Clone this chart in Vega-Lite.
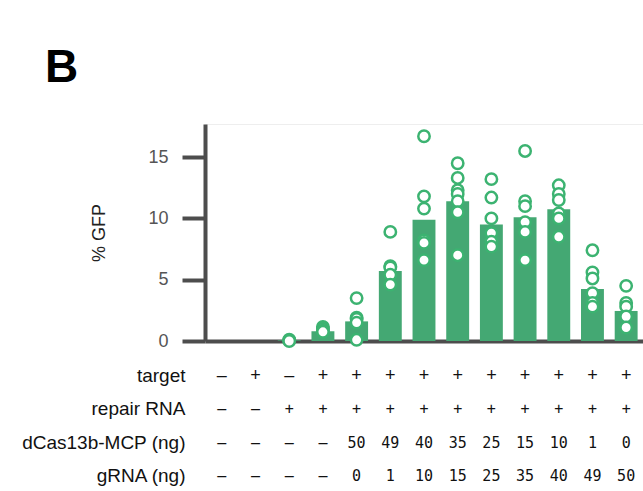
{
  "$schema": "https://vega.github.io/schema/vega-lite/v6.json",
  "padding": {"left": 21, "top": 44, "right": 0, "bottom": 0},
  "background": "white",
  "config": {"font": "Liberation Sans", "view": {"stroke": null}},
  "datasets": {
    "bars": [
      {"c": 1, "v": 0}, {"c": 2, "v": 0}, {"c": 3, "v": 0.05}, {"c": 4, "v": 0.8},
      {"c": 5, "v": 1.6}, {"c": 6, "v": 5.7}, {"c": 7, "v": 9.9}, {"c": 8, "v": 11.4},
      {"c": 9, "v": 9.5}, {"c": 10, "v": 10.1}, {"c": 11, "v": 10.75}, {"c": 12, "v": 4.25},
      {"c": 13, "v": 2.45}
    ],
    "points": [
      {"c": 3, "v": 0.1}, {"c": 3, "v": 0.05}, {"c": 3, "v": 0.0},
      {"c": 4, "v": 1.15}, {"c": 4, "v": 1.0}, {"c": 4, "v": 0.85}, {"c": 4, "v": 0.75},
      {"c": 5, "v": 3.5}, {"c": 5, "v": 1.9}, {"c": 5, "v": 1.8}, {"c": 5, "v": 1.5}, {"c": 5, "v": 0.1},
      {"c": 6, "v": 8.9}, {"c": 6, "v": 6.1}, {"c": 6, "v": 6.0}, {"c": 6, "v": 5.4}, {"c": 6, "v": 4.6},
      {"c": 7, "v": 16.7}, {"c": 7, "v": 11.8}, {"c": 7, "v": 10.8}, {"c": 7, "v": 8.2}, {"c": 7, "v": 8.0}, {"c": 7, "v": 6.6},
      {"c": 8, "v": 14.5}, {"c": 8, "v": 13.3}, {"c": 8, "v": 12.3}, {"c": 8, "v": 12.0}, {"c": 8, "v": 11.4}, {"c": 8, "v": 10.5}, {"c": 8, "v": 7.0},
      {"c": 9, "v": 13.2}, {"c": 9, "v": 11.7}, {"c": 9, "v": 10.0}, {"c": 9, "v": 8.8}, {"c": 9, "v": 8.1}, {"c": 9, "v": 7.7},
      {"c": 10, "v": 15.5}, {"c": 10, "v": 11.4}, {"c": 10, "v": 11.0}, {"c": 10, "v": 9.7}, {"c": 10, "v": 8.9}, {"c": 10, "v": 6.6},
      {"c": 11, "v": 12.7}, {"c": 11, "v": 12.0}, {"c": 11, "v": 11.5}, {"c": 11, "v": 10.4}, {"c": 11, "v": 10.0}, {"c": 11, "v": 8.5},
      {"c": 12, "v": 7.4}, {"c": 12, "v": 5.6}, {"c": 12, "v": 5.1}, {"c": 12, "v": 3.9}, {"c": 12, "v": 3.1}, {"c": 12, "v": 2.8},
      {"c": 13, "v": 4.5}, {"c": 13, "v": 3.1}, {"c": 13, "v": 2.8}, {"c": 13, "v": 2.0}, {"c": 13, "v": 1.1}
    ],
    "table": [
      {"c": 1, "row": "target", "t": "–"}, {"c": 2, "row": "target", "t": "+"}, {"c": 3, "row": "target", "t": "–"},
      {"c": 4, "row": "target", "t": "+"}, {"c": 5, "row": "target", "t": "+"}, {"c": 6, "row": "target", "t": "+"},
      {"c": 7, "row": "target", "t": "+"}, {"c": 8, "row": "target", "t": "+"}, {"c": 9, "row": "target", "t": "+"},
      {"c": 10, "row": "target", "t": "+"}, {"c": 11, "row": "target", "t": "+"}, {"c": 12, "row": "target", "t": "+"},
      {"c": 13, "row": "target", "t": "+"},
      {"c": 1, "row": "repair RNA", "t": "–"}, {"c": 2, "row": "repair RNA", "t": "–"}, {"c": 3, "row": "repair RNA", "t": "+"},
      {"c": 4, "row": "repair RNA", "t": "+"}, {"c": 5, "row": "repair RNA", "t": "+"}, {"c": 6, "row": "repair RNA", "t": "+"},
      {"c": 7, "row": "repair RNA", "t": "+"}, {"c": 8, "row": "repair RNA", "t": "+"}, {"c": 9, "row": "repair RNA", "t": "+"},
      {"c": 10, "row": "repair RNA", "t": "+"}, {"c": 11, "row": "repair RNA", "t": "+"}, {"c": 12, "row": "repair RNA", "t": "+"},
      {"c": 13, "row": "repair RNA", "t": "+"},
      {"c": 1, "row": "dCas13b-MCP (ng)", "t": "–"}, {"c": 2, "row": "dCas13b-MCP (ng)", "t": "–"}, {"c": 3, "row": "dCas13b-MCP (ng)", "t": "–"},
      {"c": 4, "row": "dCas13b-MCP (ng)", "t": "–"}, {"c": 5, "row": "dCas13b-MCP (ng)", "t": "50"}, {"c": 6, "row": "dCas13b-MCP (ng)", "t": "49"},
      {"c": 7, "row": "dCas13b-MCP (ng)", "t": "40"}, {"c": 8, "row": "dCas13b-MCP (ng)", "t": "35"}, {"c": 9, "row": "dCas13b-MCP (ng)", "t": "25"},
      {"c": 10, "row": "dCas13b-MCP (ng)", "t": "15"}, {"c": 11, "row": "dCas13b-MCP (ng)", "t": "10"}, {"c": 12, "row": "dCas13b-MCP (ng)", "t": "1"},
      {"c": 13, "row": "dCas13b-MCP (ng)", "t": "0"},
      {"c": 1, "row": "gRNA (ng)", "t": "–"}, {"c": 2, "row": "gRNA (ng)", "t": "–"}, {"c": 3, "row": "gRNA (ng)", "t": "–"},
      {"c": 4, "row": "gRNA (ng)", "t": "–"}, {"c": 5, "row": "gRNA (ng)", "t": "0"}, {"c": 6, "row": "gRNA (ng)", "t": "1"},
      {"c": 7, "row": "gRNA (ng)", "t": "10"}, {"c": 8, "row": "gRNA (ng)", "t": "15"}, {"c": 9, "row": "gRNA (ng)", "t": "25"},
      {"c": 10, "row": "gRNA (ng)", "t": "35"}, {"c": 11, "row": "gRNA (ng)", "t": "40"}, {"c": 12, "row": "gRNA (ng)", "t": "49"},
      {"c": 13, "row": "gRNA (ng)", "t": "50"}
    ]
  },
  "spacing": 6,
  "vconcat": [
    {
      "width": 438,
      "height": 217,
      "view": {"stroke": "#eeeeee"},
      "title": {"text": "B", "anchor": "start", "frame": "group", "dx": -160, "offset": -4, "fontSize": 46, "font": "Liberation Sans", "fontWeight": "bold", "color": "#000000", "baseline": "alphabetic"},
      "layer": [
        {
          "data": {"name": "bars"},
          "mark": {"type": "bar", "color": "#44a873"},
          "encoding": {
            "x": {"field": "c", "type": "ordinal", "scale": {"domain": [1,2,3,4,5,6,7,8,9,10,11,12,13], "paddingInner": 0.32, "paddingOuter": 0.16},
                  "axis": {"domain": true, "domainColor": "#4d4d4d", "domainWidth": 4, "labels": false, "ticks": false, "title": null, "grid": false}},
            "y": {"field": "v", "type": "quantitative", "scale": {"domain": [0, 17.7], "nice": false},
                  "axis": {"values": [0, 5, 10, 15], "domain": true, "domainColor": "#4d4d4d", "domainWidth": 4, "tickColor": "#4d4d4d", "tickWidth": 4, "tickSize": 23, "labelFontSize": 18, "labelColor": "#555555", "labelPadding": 14, "title": "% GFP", "titleFontSize": 18, "titleFontWeight": "normal", "titleColor": "#222222", "titlePadding": 39, "grid": false}}
          }
        },
        {
          "data": {"name": "points"},
          "mark": {"type": "point", "shape": "circle", "filled": true, "fill": "white", "stroke": "#3cb371", "strokeWidth": 2.5, "size": 130, "opacity": 1, "fillOpacity": 1, "strokeOpacity": 1},
          "encoding": {
            "x": {"field": "c", "type": "ordinal"},
            "y": {"field": "v", "type": "quantitative"}
          }
        }
      ]
    },
    {
      "width": 438,
      "height": 134,
      "data": {"name": "table"},
      "encoding": {
        "x": {"field": "c", "type": "ordinal", "scale": {"type": "band", "domain": [1,2,3,4,5,6,7,8,9,10,11,12,13], "paddingInner": 0.32, "paddingOuter": 0.16}, "axis": null},
        "y": {"field": "row", "type": "nominal", "scale": {"type": "band", "domain": ["target", "repair RNA", "dCas13b-MCP (ng)", "gRNA (ng)"], "paddingInner": 0, "paddingOuter": 0},
              "axis": {"domain": false, "ticks": false, "labelFontSize": 19, "labelColor": "#111111", "labelPadding": 20, "title": null, "labelLimit": 300}},
        "text": {"field": "t", "type": "nominal"}
      },
      "layer": [
        {
          "transform": [{"filter": "datum.row === 'target'"}],
          "mark": {"type": "text", "font": "Liberation Sans", "fontSize": 18, "color": "#111111"}
        },
        {
          "transform": [{"filter": "datum.row !== 'target'"}],
          "mark": {"type": "text", "font": "DejaVu Sans Mono", "fontSize": 15, "color": "#111111"}
        }
      ]
    }
  ]
}
